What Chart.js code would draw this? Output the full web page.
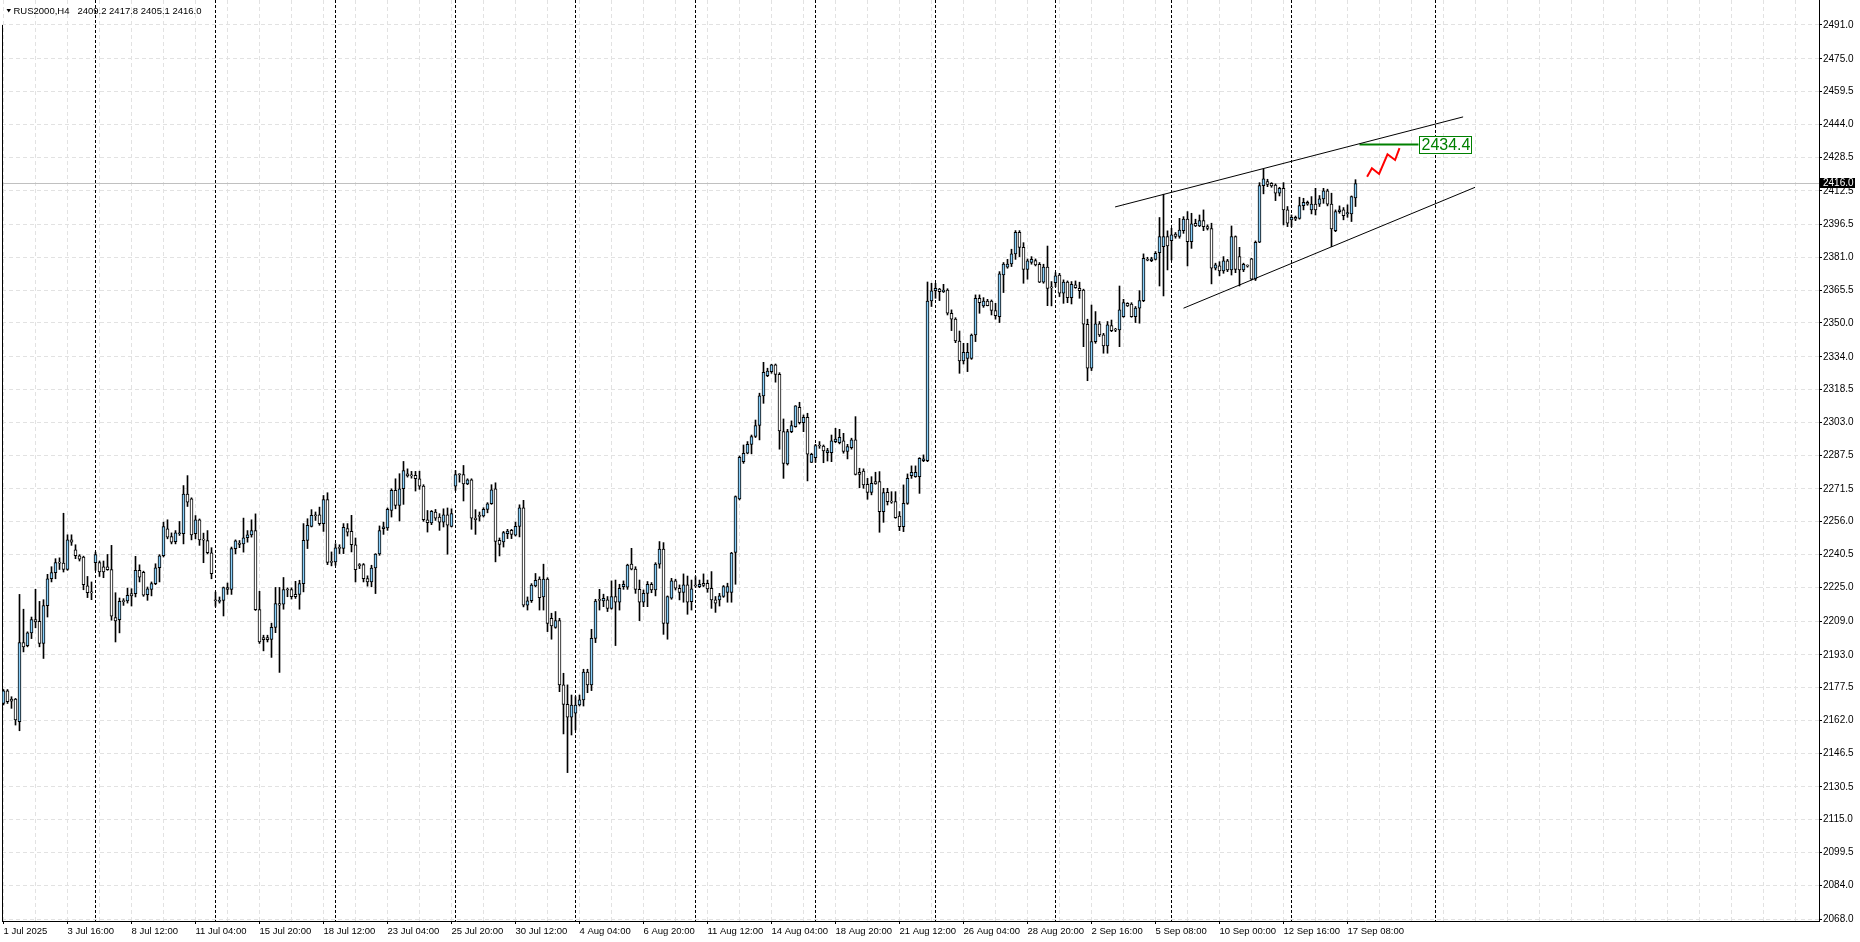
<!DOCTYPE html>
<html>
<head>
<meta charset="utf-8">
<title>RUS2000,H4</title>
<script src="https://cdn.jsdelivr.net/npm/chart.js"></script>
<style>
  html, body { margin: 0; padding: 0; background: #fff; }
  #wrap { width: 1860px; height: 942px; }
</style>
</head>
<body>
<div id="wrap"><canvas id="chart" width="1860" height="942"></canvas></div>
<script>
const symbol = 'RUS2000,H4';

// H4 candles, one per bar
const opens = [
  2170.0, 2176.0, 2172.1, 2172.1, 2161.4, 2198.8, 2197.3, 2203.4, 2209.7, 2208.9,
  2198.4, 2216.3, 2229.0, 2231.9, 2236.6, 2236.4, 2233.4, 2247.4, 2242.7, 2239.9,
  2239.3, 2225.7, 2222.4, 2236.6, 2236.6, 2234.7, 2234.7, 2233.4, 2210.6, 2209.7,
  2218.3, 2218.5, 2222.0, 2222.0, 2233.0, 2232.0, 2221.5, 2224.0, 2226.7, 2234.2,
  2239.9, 2252.6, 2249.0, 2246.6, 2250.3, 2250.3, 2269.1, 2266.8, 2250.3, 2256.9,
  2247.4, 2247.1, 2241.3, 2218.8, 2218.3, 2218.8, 2224.8, 2224.0, 2243.2, 2245.9,
  2245.5, 2248.4, 2249.8, 2251.8, 2214.4, 2201.2, 2201.2, 2200.3, 2206.0, 2217.3,
  2217.0, 2223.9, 2223.9, 2221.6, 2221.6, 2226.7, 2247.2, 2253.8, 2259.0, 2259.3,
  2255.1, 2266.5, 2237.3, 2237.0, 2243.6, 2243.3, 2252.7, 2251.4, 2245.1, 2235.4,
  2235.7, 2229.1, 2227.5, 2234.1, 2240.7, 2252.7, 2253.0, 2261.3, 2270.8, 2263.7,
  2271.6, 2278.7, 2277.9, 2277.9, 2276.3, 2272.8, 2256.9, 2255.4, 2260.6, 2258.2,
  2255.8, 2259.3, 2253.8, 2272.8, 2278.3, 2278.3, 2273.9, 2275.8, 2257.7, 2258.7,
  2258.7, 2261.8, 2264.5, 2271.6, 2247.2, 2246.4, 2250.3, 2251.9, 2249.6, 2253.8,
  2262.6, 2216.5, 2218.6, 2225.6, 2228.8, 2220.4, 2228.8, 2210.3, 2206.0, 2209.2,
  2178.8, 2169.6, 2163.5, 2165.4, 2169.3, 2171.7, 2184.8, 2178.8, 2200.8, 2219.0,
  2218.5, 2219.0, 2215.0, 2220.6, 2217.9, 2225.3, 2225.0, 2235.9, 2233.6, 2224.0,
  2217.9, 2222.1, 2226.4, 2223.7, 2235.9, 2243.0, 2207.9, 2219.8, 2228.0, 2224.5,
  2222.6, 2226.1, 2218.2, 2225.8, 2225.3, 2226.9, 2226.9, 2224.5, 2219.0, 2219.0,
  2220.6, 2222.6, 2222.6, 2241.5, 2266.8, 2284.4, 2288.4, 2292.6, 2296.3, 2301.5,
  2315.5, 2325.1, 2327.0, 2330.2, 2325.7, 2298.6, 2283.3, 2298.6, 2301.0, 2310.1,
  2302.9, 2305.4, 2284.1, 2286.3, 2292.0, 2291.8, 2288.7, 2288.7, 2293.9, 2293.4,
  2294.2, 2289.2, 2291.0, 2294.7, 2279.4, 2280.0, 2273.7, 2269.8, 2275.0, 2275.0,
  2260.8, 2269.9, 2265.8, 2265.5, 2258.7, 2253.7, 2264.7, 2277.8, 2277.3, 2277.3,
  2284.9, 2284.9, 2360.4, 2365.3, 2366.0, 2364.8, 2365.6, 2354.6, 2351.9, 2341.5,
  2332.0, 2333.3, 2333.3, 2344.3, 2361.7, 2358.1, 2360.4, 2360.4, 2355.9, 2353.0,
  2372.7, 2376.4, 2377.9, 2382.7, 2392.9, 2385.8, 2375.4, 2378.7, 2379.5, 2377.8,
  2369.3, 2376.4, 2366.7, 2369.1, 2372.7, 2364.1, 2369.3, 2362.0, 2368.0, 2366.4,
  2365.6, 2349.4, 2328.6, 2341.2, 2349.6, 2344.4, 2339.1, 2348.8, 2346.7, 2346.7,
  2353.0, 2359.3, 2358.9, 2353.0, 2357.0, 2360.6, 2379.8, 2379.5, 2380.1, 2383.3,
  2386.1, 2390.9, 2389.0, 2392.1, 2390.9, 2393.7, 2399.2, 2388.5, 2397.2, 2395.9,
  2398.4, 2395.6, 2394.7, 2375.9, 2377.0, 2374.6, 2379.4, 2375.1, 2390.9, 2381.4,
  2375.1, 2377.0, 2380.3, 2370.7, 2388.2, 2415.0, 2416.9, 2416.1, 2415.3, 2411.4,
  2413.7, 2403.5, 2398.8, 2400.0, 2399.5, 2405.5, 2407.1, 2403.5, 2406.3, 2406.2,
  2408.7, 2412.5, 2406.2, 2393.7, 2402.7, 2403.5, 2401.6, 2401.6, 2409.2
];
const highs = [
  2176.6, 2176.6, 2173.2, 2172.4, 2221.6, 2214.6, 2203.9, 2210.9, 2224.0, 2218.3,
  2219.1, 2231.1, 2234.7, 2238.5, 2238.9, 2260.0, 2249.8, 2249.8, 2245.1, 2240.4,
  2239.7, 2230.1, 2227.5, 2241.6, 2237.4, 2237.4, 2240.5, 2244.8, 2222.4, 2219.9,
  2219.6, 2224.6, 2224.3, 2239.6, 2235.6, 2232.6, 2225.1, 2227.5, 2236.1, 2240.4,
  2255.8, 2256.9, 2250.7, 2251.8, 2256.1, 2273.1, 2277.8, 2267.3, 2258.9, 2257.3,
  2250.6, 2251.8, 2243.7, 2222.7, 2220.4, 2225.1, 2227.0, 2244.0, 2247.4, 2247.1,
  2257.7, 2251.8, 2256.9, 2259.7, 2223.1, 2202.3, 2202.3, 2208.0, 2224.9, 2224.9,
  2229.6, 2224.7, 2224.7, 2227.8, 2228.3, 2255.1, 2257.4, 2261.7, 2260.6, 2262.9,
  2268.4, 2269.7, 2241.7, 2245.6, 2245.1, 2255.1, 2255.1, 2259.0, 2248.3, 2236.2,
  2236.2, 2230.4, 2235.4, 2240.9, 2254.0, 2255.8, 2262.5, 2271.6, 2276.3, 2278.7,
  2284.5, 2281.0, 2279.8, 2279.8, 2279.9, 2273.5, 2261.3, 2261.3, 2261.8, 2259.8,
  2262.1, 2262.5, 2262.1, 2280.2, 2278.7, 2282.6, 2276.3, 2276.3, 2261.7, 2260.6,
  2262.6, 2265.0, 2273.5, 2274.4, 2248.3, 2251.4, 2252.4, 2252.4, 2255.8, 2264.0,
  2266.1, 2220.4, 2226.7, 2231.5, 2229.9, 2235.9, 2229.5, 2212.7, 2213.5, 2210.3,
  2184.3, 2178.8, 2174.0, 2173.2, 2174.0, 2186.2, 2186.2, 2205.1, 2219.3, 2224.0,
  2221.7, 2220.6, 2228.0, 2228.4, 2226.4, 2228.0, 2235.9, 2243.4, 2234.7, 2228.4,
  2223.7, 2227.7, 2227.2, 2236.6, 2246.6, 2246.1, 2220.9, 2229.2, 2228.8, 2226.1,
  2231.3, 2230.3, 2228.4, 2230.0, 2228.4, 2231.3, 2228.4, 2232.4, 2220.6, 2222.1,
  2225.8, 2226.9, 2241.5, 2268.2, 2287.1, 2292.3, 2293.9, 2297.0, 2304.1, 2316.8,
  2331.4, 2328.6, 2330.5, 2330.6, 2326.5, 2304.6, 2299.7, 2303.7, 2310.9, 2312.5,
  2306.5, 2307.3, 2288.4, 2292.6, 2293.9, 2292.3, 2290.7, 2297.0, 2300.2, 2299.7,
  2297.8, 2292.6, 2295.5, 2305.7, 2281.3, 2281.0, 2276.5, 2277.3, 2279.4, 2279.7,
  2271.8, 2271.8, 2270.2, 2270.2, 2260.8, 2273.4, 2278.6, 2282.4, 2282.4, 2286.3,
  2287.6, 2369.4, 2368.8, 2368.8, 2366.4, 2368.3, 2366.2, 2356.2, 2352.5, 2346.2,
  2340.4, 2340.4, 2344.8, 2363.3, 2363.3, 2362.0, 2361.2, 2360.9, 2359.3, 2374.3,
  2378.6, 2380.1, 2384.9, 2393.7, 2393.7, 2388.0, 2380.3, 2381.4, 2380.3, 2378.6,
  2377.8, 2386.4, 2369.6, 2373.8, 2373.5, 2370.4, 2369.9, 2369.6, 2369.9, 2369.3,
  2366.0, 2351.8, 2358.5, 2355.4, 2350.7, 2345.1, 2350.7, 2351.4, 2347.5, 2367.5,
  2361.2, 2359.6, 2359.6, 2357.8, 2365.3, 2382.7, 2381.1, 2381.1, 2383.8, 2399.9,
  2410.9, 2393.6, 2394.8, 2392.8, 2399.5, 2400.3, 2402.7, 2401.9, 2399.1, 2401.1,
  2403.5, 2396.4, 2397.2, 2378.3, 2379.0, 2381.4, 2380.1, 2395.9, 2391.2, 2385.8,
  2378.3, 2377.5, 2380.6, 2388.8, 2416.4, 2422.7, 2418.0, 2416.4, 2415.8, 2414.2,
  2416.4, 2405.1, 2401.1, 2400.6, 2409.5, 2409.0, 2407.7, 2409.8, 2413.7, 2410.3,
  2413.7, 2413.3, 2411.4, 2403.5, 2405.4, 2404.6, 2405.9, 2410.1, 2417.8
];
const lows = [
  2169.3, 2170.0, 2167.7, 2159.8, 2157.1, 2194.4, 2196.8, 2200.7, 2205.8, 2196.8,
  2191.3, 2210.9, 2227.5, 2229.0, 2233.4, 2232.2, 2233.0, 2244.8, 2238.5, 2237.4,
  2223.8, 2220.1, 2219.1, 2233.0, 2230.1, 2229.5, 2233.0, 2209.4, 2199.1, 2203.4,
  2216.4, 2217.5, 2216.1, 2220.4, 2227.5, 2220.7, 2218.8, 2220.9, 2226.2, 2227.5,
  2239.3, 2247.9, 2245.5, 2245.5, 2249.5, 2245.5, 2263.2, 2247.4, 2247.9, 2244.8,
  2236.6, 2240.8, 2229.0, 2216.0, 2217.5, 2211.4, 2221.6, 2221.6, 2240.8, 2243.7,
  2241.6, 2246.3, 2248.7, 2214.0, 2198.4, 2194.9, 2199.1, 2191.8, 2203.5, 2184.7,
  2214.6, 2220.5, 2219.4, 2219.7, 2214.6, 2222.8, 2243.3, 2253.5, 2256.6, 2254.3,
  2251.4, 2235.7, 2235.1, 2235.4, 2240.9, 2240.9, 2249.2, 2241.7, 2227.5, 2233.8,
  2227.5, 2225.5, 2225.2, 2222.0, 2240.1, 2250.0, 2251.9, 2258.2, 2262.1, 2256.3,
  2264.2, 2277.1, 2276.6, 2270.5, 2271.3, 2256.2, 2251.1, 2254.6, 2256.6, 2251.9,
  2253.5, 2240.6, 2253.5, 2270.8, 2274.7, 2265.8, 2273.5, 2252.4, 2250.0, 2256.3,
  2258.2, 2260.2, 2264.2, 2237.0, 2239.8, 2244.0, 2248.0, 2248.0, 2249.2, 2248.8,
  2215.7, 2214.2, 2217.8, 2225.2, 2214.2, 2214.2, 2204.0, 2200.4, 2205.6, 2175.6,
  2155.6, 2137.3, 2155.1, 2157.5, 2168.8, 2168.8, 2175.1, 2176.1, 2198.8, 2214.2,
  2215.8, 2213.5, 2214.6, 2197.4, 2214.2, 2224.0, 2224.0, 2233.2, 2222.1, 2209.2,
  2215.8, 2215.8, 2222.4, 2220.9, 2234.0, 2202.7, 2200.4, 2219.3, 2223.7, 2219.0,
  2217.9, 2212.2, 2214.2, 2225.0, 2224.8, 2225.3, 2222.6, 2215.0, 2213.1, 2216.1,
  2220.2, 2217.9, 2217.9, 2226.4, 2266.3, 2283.6, 2288.1, 2288.1, 2295.8, 2294.7,
  2312.0, 2324.6, 2326.2, 2322.0, 2290.3, 2276.5, 2282.8, 2298.1, 2300.7, 2302.2,
  2298.6, 2275.3, 2284.0, 2284.1, 2290.7, 2283.9, 2284.7, 2284.4, 2293.4, 2292.8,
  2288.4, 2285.7, 2290.3, 2278.1, 2272.1, 2271.8, 2266.6, 2268.7, 2273.7, 2251.0,
  2255.7, 2263.9, 2264.7, 2257.6, 2251.8, 2251.3, 2264.2, 2276.5, 2277.0, 2269.4,
  2284.4, 2284.4, 2357.8, 2361.7, 2360.6, 2364.4, 2353.8, 2346.4, 2340.7, 2326.2,
  2330.6, 2327.0, 2332.8, 2341.2, 2354.6, 2357.4, 2358.1, 2353.8, 2351.8, 2350.2,
  2364.4, 2375.9, 2376.7, 2380.1, 2381.4, 2368.8, 2370.7, 2377.8, 2377.0, 2369.1,
  2368.8, 2358.2, 2358.1, 2367.2, 2362.5, 2359.3, 2359.6, 2359.0, 2366.4, 2361.7,
  2338.8, 2322.7, 2327.5, 2340.4, 2343.6, 2335.7, 2335.7, 2345.9, 2345.9, 2338.8,
  2352.7, 2357.8, 2352.7, 2350.2, 2349.9, 2360.1, 2379.4, 2379.0, 2379.8, 2367.5,
  2362.8, 2375.1, 2379.8, 2390.1, 2390.1, 2392.4, 2377.0, 2385.3, 2395.6, 2395.6,
  2393.7, 2394.0, 2368.5, 2375.1, 2372.3, 2373.5, 2374.3, 2372.7, 2373.8, 2367.5,
  2374.3, 2376.4, 2370.4, 2370.1, 2388.0, 2411.1, 2414.5, 2414.2, 2407.9, 2410.1,
  2396.4, 2395.6, 2395.6, 2398.4, 2399.1, 2403.5, 2405.7, 2401.6, 2401.1, 2405.1,
  2406.6, 2405.4, 2386.1, 2393.2, 2401.9, 2398.8, 2400.0, 2398.0, 2405.1
];
const closes = [
  2176.0, 2170.8, 2171.1, 2162.2, 2198.8, 2196.8, 2203.4, 2209.7, 2208.6, 2198.4,
  2216.3, 2229.0, 2231.9, 2236.6, 2236.4, 2233.4, 2247.4, 2246.3, 2239.9, 2238.3,
  2226.2, 2222.4, 2222.3, 2240.4, 2232.2, 2232.2, 2233.3, 2211.3, 2209.1, 2218.3,
  2218.2, 2221.2, 2220.9, 2233.0, 2229.8, 2221.2, 2224.2, 2226.7, 2234.2, 2239.9,
  2253.7, 2248.7, 2246.3, 2250.7, 2250.7, 2269.1, 2265.2, 2249.8, 2256.9, 2247.4,
  2247.3, 2241.3, 2231.4, 2218.6, 2218.5, 2224.8, 2224.0, 2243.3, 2247.0, 2245.2,
  2248.4, 2249.8, 2251.8, 2214.4, 2199.1, 2200.2, 2200.2, 2206.0, 2217.3, 2216.5,
  2223.9, 2223.7, 2220.5, 2220.5, 2226.7, 2247.2, 2254.3, 2259.0, 2258.8, 2255.1,
  2266.5, 2236.7, 2236.7, 2243.6, 2243.4, 2253.3, 2251.1, 2245.1, 2233.3, 2235.2,
  2229.1, 2227.5, 2234.1, 2240.7, 2251.8, 2253.6, 2261.8, 2270.8, 2263.7, 2271.6,
  2280.2, 2277.6, 2277.7, 2276.3, 2272.8, 2256.9, 2255.5, 2260.9, 2257.7, 2255.8,
  2259.3, 2254.3, 2259.8, 2278.3, 2278.2, 2273.9, 2275.8, 2257.7, 2256.9, 2258.5,
  2261.8, 2264.5, 2271.1, 2246.7, 2245.3, 2250.8, 2251.6, 2250.0, 2253.8, 2262.6,
  2216.5, 2218.6, 2226.0, 2228.3, 2220.0, 2228.8, 2207.9, 2206.7, 2209.2, 2178.8,
  2169.6, 2163.5, 2169.3, 2169.3, 2171.7, 2184.8, 2178.8, 2200.8, 2218.5, 2218.8,
  2219.8, 2215.0, 2220.6, 2217.9, 2224.5, 2226.4, 2235.5, 2233.6, 2224.0, 2217.9,
  2222.1, 2226.4, 2223.7, 2235.9, 2243.0, 2207.9, 2220.6, 2228.0, 2224.5, 2222.6,
  2226.1, 2217.9, 2224.2, 2225.6, 2226.4, 2225.8, 2224.2, 2219.0, 2217.4, 2220.9,
  2225.3, 2225.3, 2241.1, 2267.9, 2286.5, 2288.4, 2292.6, 2296.3, 2301.5, 2315.5,
  2326.7, 2327.3, 2330.2, 2325.7, 2298.9, 2283.6, 2298.6, 2301.5, 2310.8, 2302.9,
  2305.4, 2287.9, 2287.9, 2292.0, 2291.8, 2289.5, 2289.6, 2294.2, 2295.1, 2295.9,
  2289.2, 2291.5, 2294.7, 2278.4, 2278.4, 2273.4, 2269.8, 2274.2, 2273.9, 2260.8,
  2269.8, 2265.5, 2265.2, 2257.9, 2253.7, 2264.7, 2276.5, 2279.4, 2279.4, 2286.0,
  2285.7, 2360.4, 2365.2, 2366.4, 2364.8, 2365.6, 2354.6, 2351.8, 2341.5, 2332.0,
  2336.1, 2336.1, 2344.3, 2361.7, 2359.6, 2360.4, 2358.2, 2355.9, 2353.5, 2373.2,
  2377.9, 2377.9, 2382.7, 2392.9, 2385.8, 2375.4, 2379.4, 2380.1, 2377.5, 2369.3,
  2376.4, 2366.4, 2366.6, 2372.3, 2364.1, 2369.3, 2362.0, 2368.3, 2366.7, 2365.3,
  2349.4, 2328.6, 2341.2, 2349.6, 2344.4, 2339.1, 2349.1, 2346.4, 2346.6, 2356.2,
  2359.6, 2358.1, 2353.0, 2357.0, 2360.6, 2380.6, 2379.7, 2380.3, 2383.0, 2390.9,
  2390.9, 2386.5, 2391.7, 2390.9, 2394.0, 2399.2, 2388.5, 2396.9, 2395.9, 2398.4,
  2395.6, 2394.7, 2375.9, 2377.5, 2374.6, 2379.4, 2375.1, 2390.9, 2375.4, 2375.1,
  2377.8, 2376.9, 2370.7, 2388.2, 2415.0, 2418.2, 2415.6, 2414.8, 2411.4, 2413.7,
  2403.5, 2397.2, 2400.0, 2399.1, 2405.5, 2407.1, 2406.2, 2406.2, 2403.5, 2408.7,
  2412.5, 2406.2, 2394.5, 2402.7, 2403.5, 2400.8, 2402.2, 2409.8, 2416.0
];

// time axis: one label every 16 bars
const xLabels = [
  '1 Jul 2025', '3 Jul 16:00', '8 Jul 12:00', '11 Jul 04:00', '15 Jul 20:00', '18 Jul 12:00',
  '23 Jul 04:00', '25 Jul 20:00', '30 Jul 12:00', '4 Aug 04:00', '6 Aug 20:00', '11 Aug 12:00',
  '14 Aug 04:00', '18 Aug 20:00', '21 Aug 12:00', '26 Aug 04:00', '28 Aug 20:00', '2 Sep 16:00',
  '5 Sep 08:00', '10 Sep 00:00', '12 Sep 16:00', '17 Sep 08:00'
];
const barsPerLabel = 16;
const yTicks = [
  2491.0, 2475.0, 2459.5, 2444.0, 2428.5, 2412.5, 2396.5, 2381.0, 2365.5, 2350.0,
  2334.0, 2318.5, 2303.0, 2287.5, 2271.5, 2256.0, 2240.5, 2225.0, 2209.0, 2193.0,
  2177.5, 2162.0, 2146.5, 2130.5, 2115.0, 2099.5, 2084.0, 2068.0
];
const yMin = 2067.1, yMax = 2502.8;
const xMin = -0.375, xMax = 453.875;

// week separators (bar index of first bar of each week)
const separatorBars = [23, 53, 83, 113, 143, 173, 203, 233, 263, 292, 322, 358];

// drawn objects
const upperTrendX = [277.9, 364.9], upperTrendY = [2404.9, 2447.5];
const lowerTrendX = [295.0, 367.9], lowerTrendY = [2357.0, 2414.2];
const targetX = [339, 353.75], targetPrice = 2434.4;
const pathX = [340.9, 342.1, 343.9, 346.0, 347.9, 349.0];
const pathY = [2419.2, 2423.2, 2420.5, 2429.8, 2427.1, 2432.7];

const bullColor = '#87cefa';
const bearColor = '#ffffff';
const gridColor = '#e2e2e2';
const FONT = '"Liberation Sans", Arial, sans-serif';

const wickData = opens.map((o, i) => ({ x: i, y: [lows[i], highs[i]] }));
const bodyData = opens.map((o, i) => ({ x: i, y: [o, closes[i]] }));
const pts = (xs, ys) => xs.map((v, i) => ({ x: v, y: ys[i] }));

const overlay = {
  id: 'overlay',
  beforeDatasetsDraw(chart) {
    const { ctx, chartArea: a, scales: { x, y } } = chart;
    ctx.save();
    ctx.lineWidth = 1;
    // bid line
    const by = Math.round(y.getPixelForValue(closes[closes.length - 1])) + 0.5;
    ctx.strokeStyle = '#c0c0c0';
    ctx.beginPath(); ctx.moveTo(a.left, by); ctx.lineTo(a.right, by); ctx.stroke();
    // period separators
    ctx.strokeStyle = '#000';
    ctx.setLineDash([3, 2]);
    separatorBars.forEach(b => {
      const px = Math.floor(x.getPixelForValue(b)) + 0.5;
      ctx.beginPath(); ctx.moveTo(px, a.top); ctx.lineTo(px, a.bottom); ctx.stroke();
    });
    ctx.setLineDash([]);
    ctx.beginPath(); ctx.moveTo(2.5, 25); ctx.lineTo(2.5, a.bottom); ctx.stroke();
    ctx.restore();
  },
  afterDraw(chart) {
    const { ctx, chartArea: a, scales: { x, y } } = chart;
    ctx.save();
    // target price label
    const lx = Math.round(x.getPixelForValue(targetX[1])) + 0.5;
    const ly = Math.round(y.getPixelForValue(targetPrice));
    const label = targetPrice.toFixed(1);
    ctx.font = '16px ' + FONT;
    const w = Math.ceil(ctx.measureText(label).width) + 3;
    ctx.fillStyle = '#fff';
    ctx.fillRect(lx, ly - 8.5, w, 17);
    ctx.strokeStyle = '#008000';
    ctx.lineWidth = 1;
    ctx.strokeRect(lx, ly - 8.5, w, 17);
    ctx.fillStyle = '#008000';
    ctx.textBaseline = 'middle';
    ctx.fillText(label, lx + 2, ly + 1);

    // last price tag on the axis
    const last = closes[closes.length - 1];
    const py = Math.round(y.getPixelForValue(last));
    ctx.fillStyle = '#000';
    ctx.fillRect(a.right + 1, py - 5, 35, 10);
    ctx.fillStyle = '#fff';
    ctx.font = '10px ' + FONT;
    ctx.fillText(last.toFixed(1), a.right + 4, py);

    // header
    const n = opens.length - 1;
    ctx.fillStyle = '#000';
    ctx.beginPath(); ctx.moveTo(6.5, 9); ctx.lineTo(11, 9); ctx.lineTo(8.75, 12.5); ctx.closePath(); ctx.fill();
    ctx.font = '9.5px ' + FONT;
    ctx.fillText(symbol + '   ' + [opens[n], highs[n], lows[n], closes[n]].map(v => v.toFixed(1)).join(' '), 13.5, 11);
    ctx.restore();
  }
};

new Chart(document.getElementById('chart'), {
  type: 'bar',
  data: {
    datasets: [
      { type: 'line', data: pts(upperTrendX, upperTrendY), borderColor: '#000', borderWidth: 1, pointRadius: 0, order: 0 },
      { type: 'line', data: pts(lowerTrendX, lowerTrendY), borderColor: '#000', borderWidth: 1, pointRadius: 0, order: 0 },
      { type: 'line', data: pts(targetX, [targetPrice, targetPrice]), borderColor: '#008000', borderWidth: 2, pointRadius: 0, order: 0 },
      { type: 'line', data: pts(pathX, pathY), borderColor: '#ff0000', borderWidth: 2, pointRadius: 0, order: 0 },
      {
        data: bodyData, grouped: false, barThickness: 3, minBarLength: 1, order: 1,
        borderWidth: 1, borderColor: '#000', borderSkipped: false,
        backgroundColor: c => closes[c.dataIndex] >= opens[c.dataIndex] ? bullColor : bearColor
      },
      { data: wickData, grouped: false, barThickness: 1, order: 2, backgroundColor: '#000', borderWidth: 0 }
    ]
  },
  options: {
    responsive: false,
    animation: false,
    devicePixelRatio: 1,
    layout: { padding: { left: 2, top: 0, right: 0, bottom: 0 } },
    plugins: { legend: { display: false }, tooltip: { enabled: false } },
    scales: {
      x: {
        type: 'linear', min: xMin, max: xMax, offset: false,
        grid: {
          offset: false, color: gridColor, lineWidth: 1, tickLength: 3, tickBorderDash: [],
          tickColor: c => (c.tick && c.tick.value % barsPerLabel === 0 && c.tick.value / barsPerLabel < xLabels.length) ? '#000' : 'rgba(0,0,0,0)'
        },
        border: { display: true, color: '#000', width: 1, dash: [4, 3] },
        ticks: {
          autoSkip: false, maxRotation: 0, minRotation: 0, align: 'start', padding: 2, color: '#000',
          font: { family: FONT, size: 9.5 },
          callback: v => (v % barsPerLabel === 0 && v / barsPerLabel < xLabels.length) ? xLabels[v / barsPerLabel] : ''
        },
        afterBuildTicks: s => {
          const t = [];
          for (let v = 0; v <= xMax; v += barsPerLabel / 2) t.push({ value: v });
          s.ticks = t;
        },
        afterFit: s => { s.height = 21; s.paddingLeft = 0; s.paddingRight = 0; }
      },
      y: {
        position: 'right', min: yMin, max: yMax,
        grid: { color: gridColor, lineWidth: 1, tickLength: 3, tickColor: '#000', tickBorderDash: [] },
        border: { display: true, color: '#000', width: 1, dash: [4, 3] },
        ticks: {
          autoSkip: false, padding: 1, color: '#000',
          font: { family: FONT, size: 10 },
          callback: v => v.toFixed(1)
        },
        afterBuildTicks: s => { s.ticks = yTicks.map(v => ({ value: v })); },
        afterFit: s => { s.width = 41; s.paddingTop = 0; s.paddingBottom = 0; }
      }
    }
  },
  plugins: [overlay]
});
</script>
</body>
</html>
